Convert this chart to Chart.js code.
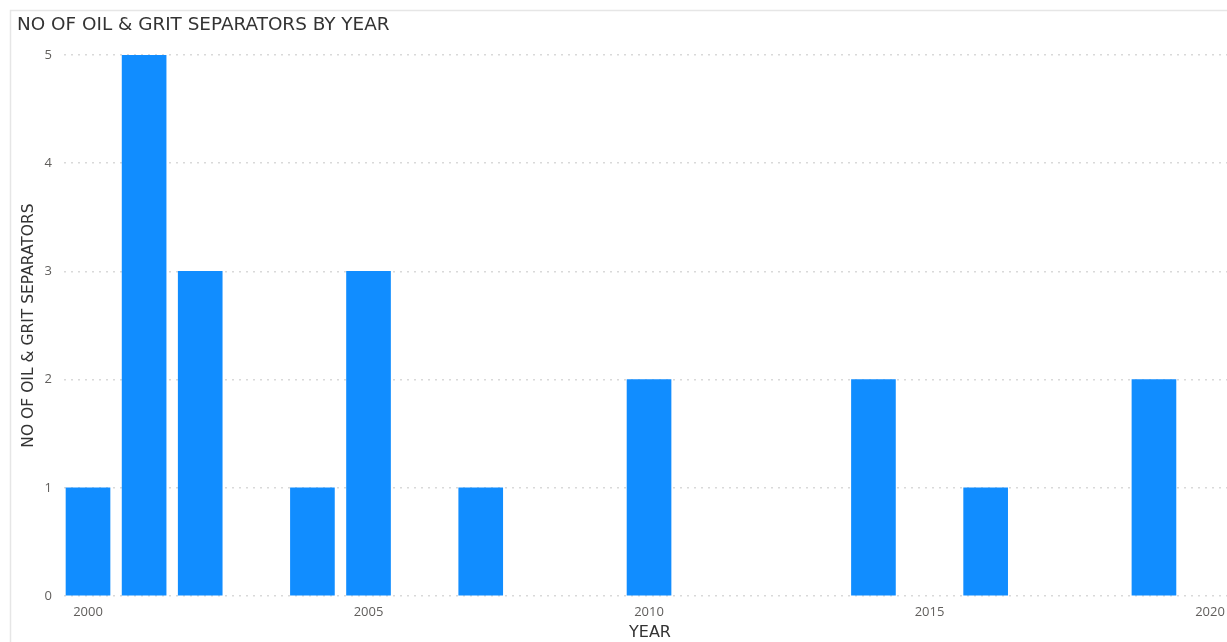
<!DOCTYPE html>
<html>
<head>
<meta charset="utf-8">
<script src="https://cdn.jsdelivr.net/npm/chart.js@4/dist/chart.umd.min.js"></script>
<style>
  html, body { margin: 0; padding: 0; background: #fff; }
  #wrap { position: relative; width: 1227px; height: 642px; }
</style>
</head>
<body>
<div id="wrap"><canvas id="c" width="1227" height="642"></canvas></div>
<script>
// Installed separators per year
const years = [2000, 2001, 2002, 2004, 2005, 2007, 2010, 2014, 2016, 2019];
const counts = [1, 5, 3, 1, 3, 1, 2, 2, 1, 2];
const xTickValues = [2000, 2005, 2010, 2015, 2020];
const yTickValues = [0, 1, 2, 3, 4, 5];

const chartTitle = 'NO OF OIL & GRIT SEPARATORS BY YEAR';
const yTitle = 'NO OF OIL & GRIT SEPARATORS';
const xTitle = 'YEAR';

const textFont = "'DejaVu Sans', sans-serif";
const tickFont = "'Open Sans', 'Noto Sans', sans-serif";

// Visual frame, heading and x-axis caption
const framePlugin = {
  id: 'frame',
  beforeDraw(chart) {
    const ctx = chart.ctx;
    ctx.save();
    ctx.strokeStyle = '#e6e6e6';
    ctx.lineWidth = 1.5;
    ctx.beginPath();
    ctx.moveTo(10.5, 642);
    ctx.lineTo(10.5, 10.5);
    ctx.lineTo(1227, 10.5);
    ctx.stroke();
    ctx.fillStyle = '#333333';
    ctx.textBaseline = 'middle';
    ctx.font = "18.4px " + textFont;
    ctx.textAlign = 'left';
    ctx.fillText(chartTitle, 17, 25);
    ctx.font = "16px " + textFont;
    ctx.textAlign = 'center';
    ctx.fillText(xTitle, 650, 633);
    ctx.restore();
  }
};

new Chart(document.getElementById('c'), {
  type: 'bar',
  data: {
    datasets: [{
      data: years.map((y, i) => ({ x: y, y: counts[i] })),
      backgroundColor: '#118DFF',
      barThickness: 44,
      borderWidth: 0
    }]
  },
  options: {
    responsive: false,
    animation: false,
    layout: { padding: { left: 10, right: 0, top: 55, bottom: 0 } },
    plugins: { legend: { display: false }, tooltip: { enabled: false } },
    scales: {
      x: {
        type: 'linear',
        min: 1999.572,
        max: 2020.302,
        offset: false,
        grid: { display: false, drawTicks: false },
        border: { display: false },
        afterBuildTicks(scale) { scale.ticks = xTickValues.map(v => ({ value: v })); },
        afterFit(scale) {
          scale.height = 46;
          scale.paddingLeft = 0;
          scale.paddingRight = 0;
        },
        ticks: {
          autoSkip: false,
          maxRotation: 0,
          padding: 8,
          color: '#605E5C',
          font: { family: tickFont, size: 13 },
          callback: v => String(v)
        },
        title: { display: false }
      },
      y: {
        min: 0,
        max: 5,
        afterBuildTicks(scale) { scale.ticks = yTickValues.map(v => ({ value: v })); },
        afterFit(scale) { scale.width = 54; },
        grid: {
          color: '#d9d9d9',
          lineWidth: 1.5,
          drawTicks: false
        },
        border: { display: false, dash: [2, 5] },
        ticks: {
          padding: 12,
          color: '#605E5C',
          font: { family: tickFont, size: 13 }
        },
        title: {
          display: true,
          text: yTitle,
          color: '#333333',
          font: { family: textFont, size: 15.5 },
          padding: { top: 10, bottom: 4 }
        }
      }
    }
  },
  plugins: [framePlugin]
});
</script>
</body>
</html>
